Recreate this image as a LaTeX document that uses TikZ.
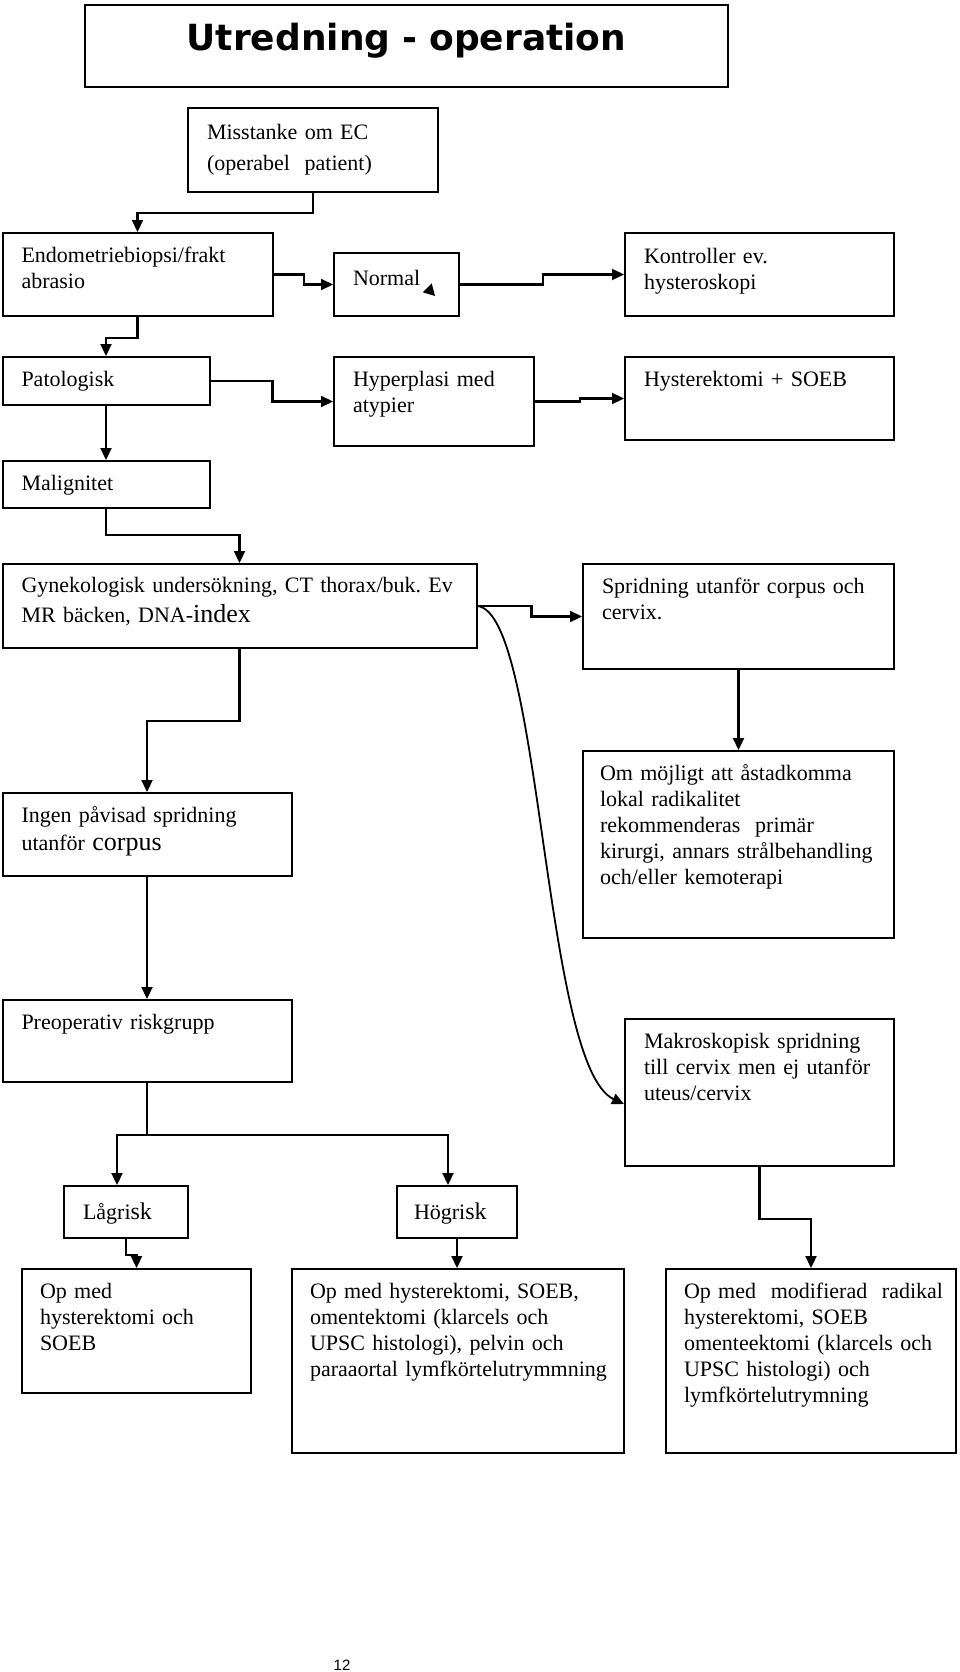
\documentclass[tikz,border=0pt]{standalone}
\usepackage{fontspec}
\setmainfont{Liberation Serif}
\newfontfamily\titlefont{DejaVu Sans}
\newfontfamily\pagefont{Liberation Sans}
\usetikzlibrary{arrows.meta}
\newcommand\bigw{\fontsize{26}{26}\selectfont}

\begin{document}
\begin{tikzpicture}[x=1pt,y=-1pt,>={Triangle[length=12pt,width=11pt]},
    box/.style={draw, line width=2pt, anchor=north west, align=left, inner xsep=19pt,
                inner ysep=0pt, text height=29.5pt, font=\fontsize{22}{26}\selectfont,
                execute at begin node={\hyphenpenalty=10000\exhyphenpenalty=10000}},
    conn/.style={->, line width=2.2pt}]
            \useasboundingbox (0,0) rectangle (960,1672);

            \node[box, align=center, inner xsep=0pt, text width=643pt, text height=46pt, text depth=36pt,
                  font=\titlefont\bfseries\fontsize{36}{40}\selectfont]
                                    (title) at (84,4)      {Utredning - operation};
            \node[box, text width=212pt, text height=32pt, text depth=52pt, font=\fontsize{22}{31}\selectfont]
                                    (misst) at (187,107)   {Misstanke om EC\\(operabel~~patient)};
            \node[box, text width=232pt, text depth=53.5pt] (endo)  at (1.5,232) {Endometriebiopsi/frakt\\abrasio};
            \node[box, text width=87pt, text height=32pt, text depth=31pt] (normal) at (333,252) {Normal};
            \node[box, text width=231pt, text height=30pt, text depth=53pt] (kontr) at (624,232) {Kontroller ev.\\hysteroskopi};
            \node[box, text width=169pt, text depth=18.5pt] (pato)  at (1.5,356) {Patologisk};
            \node[box, text width=162pt, text depth=59.5pt] (hyper) at (333,356) {Hyperplasi med\\atypier};
            \node[box, text width=231pt, text depth=53.5pt] (hyst)  at (624,356) {Hysterektomi + SOEB};
            \node[box, text width=169pt, text depth=17.5pt] (malig) at (1.5,460) {Malignitet};
            \node[box, text width=436pt, text height=28pt, text depth=56pt, font=\fontsize{22}{30}\selectfont]
                                    (gyn)   at (1.5,563)   {Gynekologisk undersökning, CT thorax/buk.~Ev\\MR bäcken, DNA-{\bigw index}};
            \node[box, text width=273pt, text depth=75.5pt] (sprid) at (582,563) {Spridning utanför corpus och\\cervix.};
            \node[box, inner xsep=17pt, text width=277pt, text depth=157.5pt]
                                    (om)    at (582,750)   {Om möjligt att åstadkomma\\lokal radikalitet\\rekommenderas~~primär\\kirurgi, annars~strålbehandling\\och/eller kemoterapi};
            \node[box, text width=251pt, text height=29pt, text depth=54pt, font=\fontsize{22}{28}\selectfont]
                                    (ingen) at (1.5,792)   {Ingen påvisad spridning\\utanför {\bigw corpus}};
            \node[box, text width=251pt, text height=29pt, text depth=53pt]
                                    (preop) at (1.5,999)   {Preoperativ riskgrupp};
            \node[box, text width=231pt, text depth=117.5pt] (makro) at (624,1018) {Makroskopisk spridning\\till cervix men ej utanför\\uteus/cervix};
            \node[box, text width=86pt, text height=33pt, text depth=19pt]
                                    (lag)   at (63,1185)   {Lågri{\fontsize{24}{24}\selectfont sk}};
            \node[box, inner xsep=17pt, text width=86pt, text height=33pt, text depth=19pt]
                                    (hog)   at (396,1185)  {Högri{\fontsize{24}{24}\selectfont sk}};
            \node[box, inner xsep=18pt, text width=193pt, text depth=94.5pt]
                                    (op1)   at (21,1268)   {Op med\\hysterektomi och\\SOEB};
            \node[box, inner xsep=18pt, text width=296pt, text depth=154.5pt]
                                    (op2)   at (291,1268)  {Op med hysterektomi, SOEB,\\omentektomi (klarcels och\\UPSC histologi), pelvin och\\paraaortal~lymfkörtelutrymmning};
            \node[box, inner xsep=18pt, text width=254pt, text depth=154.5pt]
                                    (op3)   at (665,1268)  {Op~med~~modifierad~~radikal\\hysterektomi, SOEB\\omenteektomi (klarcels och\\UPSC histologi) och\\lymfkörtelutrymning};
            \node[anchor=base, inner sep=0pt, font=\pagefont\fontsize{15}{15}\selectfont]
                                    (page)  at (342,1670)  {12};

            \draw[conn] (misst.south) -- ++(0,20) -| (endo.north);
            \draw[conn] (endo.east) -- ++(30.5,0) |- (normal.west);
            \draw[conn] (normal.east) -- ++(83,0) |- (kontr.west);
            \draw[conn] (endo.south) -- ++(0,21) -| (pato.north);
            \draw[conn] (pato.east) -- ++(62,0) |- (hyper.west);
            \draw[conn] (hyper.east) -- ++(45,0) |- (hyst.west);
            \draw[conn] (pato) -- (malig);
            \draw[conn] (malig.south) -- ++(0,26) -| (gyn.north);
            \draw[conn] (gyn.east) -- ++(54,0) |- (sprid.west);
            \draw[conn, line width=1.8pt] (gyn.east) .. controls +(64.5,7) and +(-81,-38) .. ([yshift=-11.5pt]makro.west);
            \draw[conn] (sprid) -- (om);
            \draw[conn] (gyn.south) -- ++(0,72) -| (ingen.north);
            \draw[conn] (ingen) -- (preop);
            \draw[conn] (preop.south) -- ++(0,52) -| ([xshift=-9pt]lag.north);
            \draw[conn] (preop.south) -- ++(0,52) -| ([xshift=-9pt]hog.north);
            \draw[conn] (lag.south) -- ++(0,16) -| (op1.north);
            \draw[conn] (hog.south) -- (hog.south |- op2.north);
            \draw[conn] (makro.south) -- ++(0,52) -| (op3.north);
            \fill (422.7,292.3) -- (431.7,283.3) -- (435,296) -- cycle;
\end{tikzpicture}
\end{document}
